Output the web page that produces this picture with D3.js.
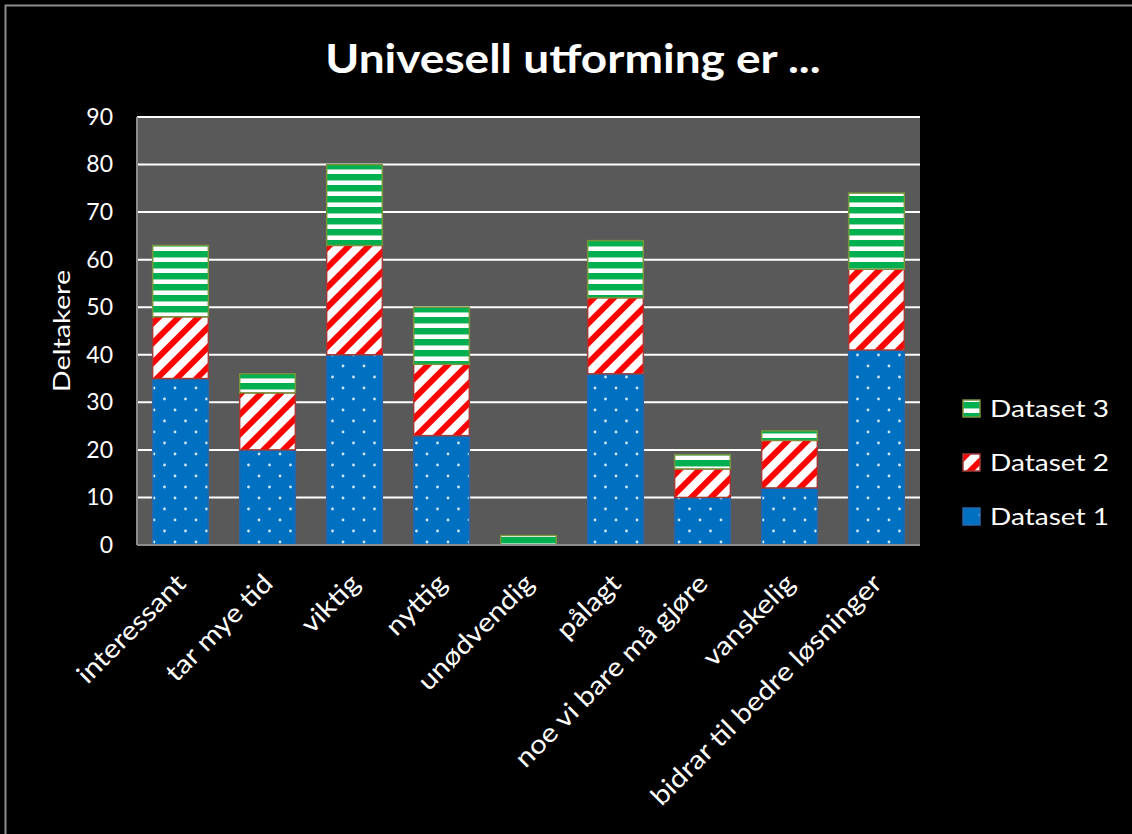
<!DOCTYPE html>
<html>
<head>
<meta charset="utf-8">
<script src="https://cdn.jsdelivr.net/npm/d3@7"></script>
<style>
	html, body { margin: 0; padding: 0; background: #000; }
	svg { display: block; font-family: Lato, "Open Sans", sans-serif; }
</style>
</head>
<body>
<div id="chart"></div>
<script>
const categories = ['interessant', 'tar mye tid', 'viktig', 'nyttig', 'unødvendig', 'pålagt', 'noe vi bare må gjøre', 'vanskelig', 'bidrar til bedre løsninger'];
const dataset1 = [35, 20, 40, 23, 0, 36, 10, 12, 41];
const dataset2 = [13, 12, 23, 15, 0, 16, 6, 10, 17];
const dataset3 = [15, 4, 17, 12, 2, 12, 3, 2, 16];
const seriesNames = ['Dataset 1', 'Dataset 2', 'Dataset 3'];
const yTicks = [0, 10, 20, 30, 40, 50, 60, 70, 80, 90];

let canvasWidth = 1132;
let canvasHeight = 834;
let margin = { top: 117, right: 212, bottom: 289, left: 137 };
let width = canvasWidth - margin.left - margin.right;
let height = canvasHeight - margin.top - margin.bottom;

let rows = categories.map((c, i) => ({ name: c, d1: dataset1[i], d2: dataset2[i], d3: dataset3[i] }));
let stack = d3.stack().keys(['d1', 'd2', 'd3'])(rows);

let x = d3.scaleBand().domain(categories).range([0, width]).paddingInner(0.36).paddingOuter(0.18);
let y = d3.scaleLinear().domain([0, 90]).range([height, 0]);

let svg = d3.select('#chart').append('svg')
	.attr('width', canvasWidth)
	.attr('height', canvasHeight);

svg.append('rect').attr('width', canvasWidth).attr('height', canvasHeight).attr('fill', '#000');
// outer frame (only top and left visible)
svg.append('path')
	.attr('d', 'M5.5,' + canvasHeight + ' V5.5 H' + canvasWidth)
	.attr('fill', 'none').attr('stroke', '#8c8c8c').attr('stroke-width', 2);

let defs = svg.append('defs');

let p1 = defs.append('pattern').attr('id', 'pat1').attr('patternUnits', 'userSpaceOnUse')
	.attr('width', 21).attr('height', 22).attr('x', margin.left + 3).attr('y', 4);
p1.append('rect').attr('width', 21).attr('height', 22).attr('fill', '#0070c0');
p1.append('circle').attr('cx', 3).attr('cy', 3).attr('r', 1.4).attr('fill', '#cfe6f7');
p1.append('circle').attr('cx', 13.5).attr('cy', 14).attr('r', 1.4).attr('fill', '#cfe6f7');

let p2 = defs.append('pattern').attr('id', 'pat2').attr('patternUnits', 'userSpaceOnUse')
	.attr('width', 14).attr('height', 14).attr('patternTransform', 'rotate(45)');
p2.append('rect').attr('width', 14).attr('height', 14).attr('fill', '#fff');
p2.append('rect').attr('width', 6).attr('height', 14).attr('fill', '#ff0000');

let p3 = defs.append('pattern').attr('id', 'pat3').attr('patternUnits', 'userSpaceOnUse')
	.attr('width', 11).attr('height', 11).attr('y', 2);
p3.append('rect').attr('width', 11).attr('height', 11).attr('fill', '#fff');
p3.append('rect').attr('width', 11).attr('height', 6).attr('fill', '#00b050');
p3.append('rect').attr('y', 6).attr('width', 11).attr('height', 1).attr('fill', '#8fd8ad');

let fills = ['url(#pat1)', 'url(#pat2)', 'url(#pat3)'];
let strokes = ['#2a66a8', '#a23b38', '#77933c'];

let g = svg.append('g').attr('transform', 'translate(' + margin.left + ',' + margin.top + ')');

g.append('rect').attr('width', width).attr('height', height).attr('fill', '#595959');

g.selectAll('.grid').data(yTicks.slice(1)).enter().append('line')
	.attr('class', 'grid')
	.attr('x1', 0).attr('x2', width)
	.attr('y1', (o) => y(o)).attr('y2', (o) => y(o))
	.attr('stroke', '#fff').attr('stroke-width', 2);

let layer = g.selectAll('.layer').data(stack).enter().append('g')
	.attr('class', 'layer')
	.attr('fill', (o, i) => fills[i])
	.attr('stroke', (o, i) => strokes[i]);

layer.selectAll('rect').data((o) => o.filter((d) => d[1] - d[0] > 0)).enter().append('rect')
	.attr('x', (o) => x(o.data.name))
	.attr('y', (o) => y(o[1]))
	.attr('width', x.bandwidth())
	.attr('height', (o) => y(o[0]) - y(o[1]))
	.attr('stroke-width', 1.5);

// axes
g.append('line').attr('x1', 0).attr('x2', width).attr('y1', height).attr('y2', height)
	.attr('stroke', '#8c8c8c').attr('stroke-width', 2);
g.append('line').attr('x1', 0).attr('x2', 0).attr('y1', 0).attr('y2', height)
	.attr('stroke', '#8c8c8c').attr('stroke-width', 2);

let yAxis = g.append('g')
	.call(d3.axisLeft(y).tickValues(yTicks).tickSize(0).tickPadding(24));
yAxis.select('.domain').remove();
yAxis.selectAll('text').attr('fill', '#fff').style('font-size', '23px')
	.style('font-family', 'Lato, "Open Sans", sans-serif');

let xAxis = g.append('g').attr('transform', 'translate(0,' + height + ')')
	.call(d3.axisBottom(x).tickSize(0));
xAxis.select('.domain').remove();
xAxis.selectAll('text')
	.attr('fill', '#fff')
	.style('font-size', '26px')
	.style('font-family', 'Lato, "Open Sans", sans-serif')
	.attr('text-anchor', 'end')
	.attr('x', 0).attr('y', 0).attr('dy', 0)
	.attr('transform', 'translate(7,40) rotate(-45) scale(1.13,1)');

let yMid = margin.top + height / 2;
svg.append('text')
	.attr('transform', 'translate(62,' + yMid + ') rotate(-90) scale(1.2,1)')
	.attr('text-anchor', 'middle').attr('dy', '0.35em')
	.attr('fill', '#fff').style('font-size', '24px')
	.text('Deltakere');

svg.append('text')
	.attr('transform', 'translate(573,73) scale(1.15,1)')
	.attr('text-anchor', 'middle')
	.attr('fill', '#fff').style('font-size', '40px').style('font-weight', 'bold')
	.text('Univesell utforming er ...');

// legend, Dataset 3 on top
let legend = svg.append('g').attr('transform', 'translate(963,400)');
let items = legend.selectAll('.item').data([2, 1, 0]).enter().append('g')
	.attr('class', 'item')
	.attr('transform', (o, i) => 'translate(0,' + (i * 54) + ')');
items.append('rect')
	.attr('width', 17).attr('height', 17)
	.attr('fill', (o) => fills[o]).attr('stroke', (o) => strokes[o]).attr('stroke-width', 1.5);
items.append('text')
	.attr('transform', 'translate(27,9) scale(1.22,1)')
	.attr('dy', '0.36em')
	.attr('fill', '#fff').style('font-size', '23px')
	.text((o) => seriesNames[o]);
</script>
</body>
</html>
